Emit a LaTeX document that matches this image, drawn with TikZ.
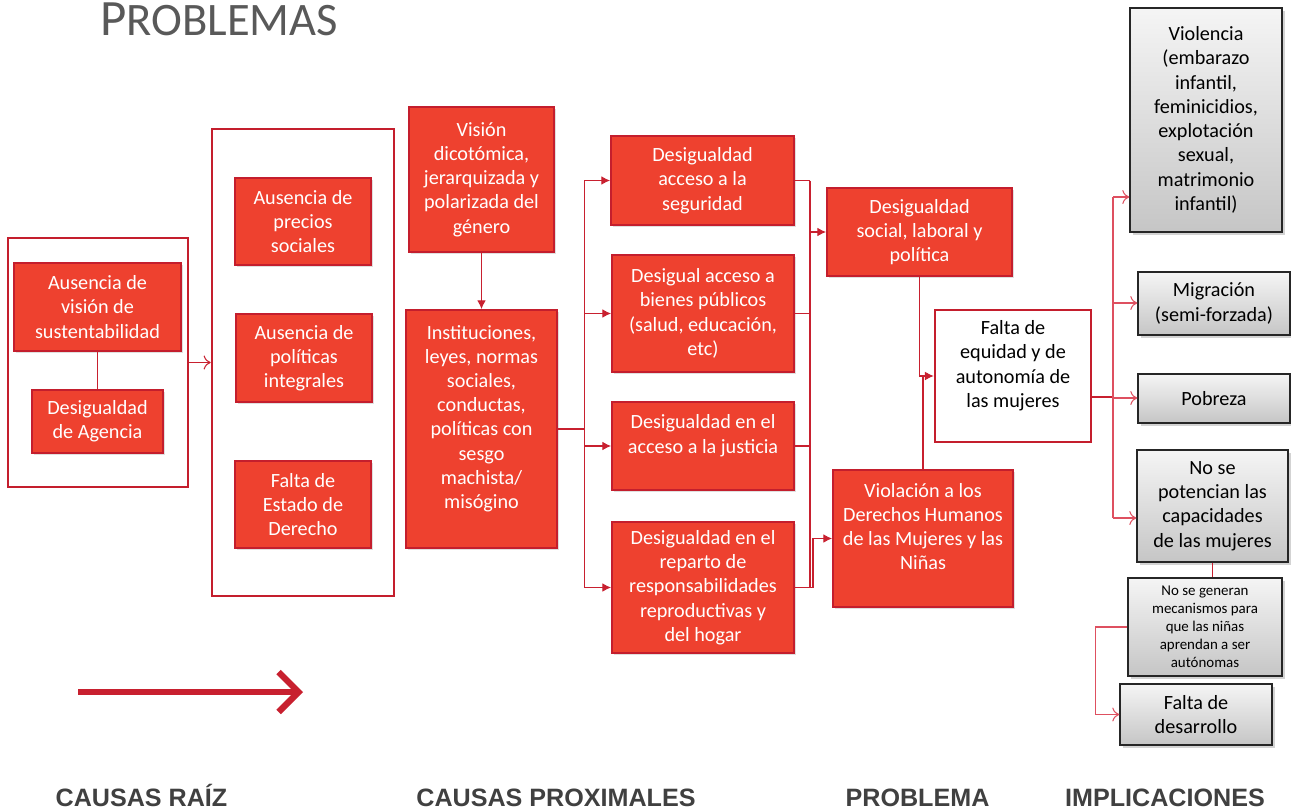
\documentclass[tikz,border=0pt]{standalone}
\usepackage{fontspec}
\setmainfont{Carlito}
\newfontfamily\headfont{Liberation Sans}
\usetikzlibrary{arrows.meta}
\usetikzlibrary{shadows}

\definecolor{boxred}{RGB}{238,65,47}
\definecolor{edgered}{RGB}{196,30,45}
\definecolor{linered}{RGB}{200,32,47}
\definecolor{implred}{RGB}{222,80,96}
\definecolor{titlegray}{RGB}{89,89,89}
\definecolor{labelgray}{RGB}{64,64,64}

\begin{document}
\begin{tikzpicture}[x=0.02cm, y=-0.02cm]
    \useasboundingbox (0,0) rectangle (1291,811);
    %% styles
    \tikzstyle {redbox} = [shape=rectangle, draw=edgered, line width=1.1pt, fill=boxred, text=white, align=center, font=\fontsize{11.5}{13.8}\selectfont, drop shadow={opacity=0.25, shadow xshift=1pt, shadow yshift=-1pt}];
    \tikzstyle {frame} = [shape=rectangle, draw=edgered, line width=1.5pt, fill=white];
    \tikzstyle {graybox} = [shape=rectangle, draw=black!85, line width=0.8pt, top color=gray!8, bottom color=gray!45, align=center, font=\fontsize{11.5}{13.8}\selectfont, drop shadow={opacity=0.35, shadow xshift=1.5pt, shadow yshift=-1.5pt}];
    \tikzstyle {conn} = [draw=linered, line width=0.6pt];
    \tikzstyle {arr} = [conn, -{Latex[length=5pt,width=5pt]}];
    \tikzstyle {impl} = [draw=implred, line width=0.6pt, -{To[length=4pt,width=8pt]}];
    \tikzstyle {bottomlabel} = [anchor=base, text=labelgray, font=\headfont\bfseries\fontsize{14.3}{16}\selectfont];

    %% title
    \node (title) [anchor=base west, inner sep=0pt, text height=0.66cm, text depth=0pt, text=titlegray] at (100,36) {\fontsize{29}{29}\selectfont P\fontsize{26.5}{26.5}\selectfont ROBLEMAS};

    %% causas raiz
    \node (raiz) [frame, minimum width=3.6cm, minimum height=4.98cm] at (98,362.5) {};
    \node (a1) [redbox, minimum width=3.34cm, minimum height=1.76cm] at (97.5,307) {Ausencia de\\visión de\\sustentabilidad};
    \node (a2) [redbox, minimum width=2.62cm, minimum height=1.26cm] at (97.5,421.5) {Desigualdad\\de Agencia};
    \draw [conn] (a1.south) -- (a2.north);

    %% second group
    \node (marco) [frame, minimum width=3.64cm, minimum height=9.34cm] at (303,362.5) {};
    \node (b1) [redbox, minimum width=2.72cm, minimum height=1.74cm] at (303,221.5) {Ausencia de\\precios\\sociales};
    \node (b2) [redbox, minimum width=2.72cm, minimum height=1.76cm] at (304,358) {Ausencia de\\políticas\\integrales};
    \node (b3) [redbox, minimum width=2.72cm, minimum height=1.74cm] at (303,504.5) {Falta de\\Estado de\\Derecho};
    \draw [conn, -{To[length=4pt,width=8pt]}] (raiz.east) -- (marco.west);

    %% causas proximales
    \node (c1) [redbox, minimum width=2.9cm, minimum height=2.9cm] at (481.5,179.5) {Visión\\dicotómica,\\jerarquizada y\\polarizada del\\género};
    \node (c2) [redbox, minimum width=3.02cm, minimum height=4.76cm] at (481.5,429) {Instituciones,\\leyes, normas\\sociales,\\conductas,\\políticas con\\sesgo\\machista/\\misógino\\~};
    \draw [arr] (c1.south) -- (c2.north);

    \node (d1) [redbox, minimum width=3.66cm, minimum height=1.78cm] at (702.5,180.5) {Desigualdad\\acceso a la\\seguridad};
    \node (d2) [redbox, minimum width=3.64cm, minimum height=2.34cm] at (703,313.5) {Desigual acceso a\\bienes públicos\\(salud, educación,\\etc)};
    \node (d3) [redbox, minimum width=3.64cm, minimum height=1.76cm] at (703,446) {Desigualdad en el\\acceso a la justicia\\~};
    \node (d4) [redbox, minimum width=3.64cm, minimum height=2.62cm] at (703,587.5) {Desigualdad en el\\reparto de\\responsabilidades\\reproductivas y\\del hogar};
    \foreach \n in {d1,d2,d3,d4}
        \draw [arr] (c2.east) -- +(27,0) |- (\n.west);

    %% problema
    \coordinate (m) at (810,0);
    \foreach \n in {d1,d2,d3,d4}
        \draw [conn] (\n.east) -- (\n.east -| m);
    \draw [conn] (d1.east -| m) -- (d4.east -| m);
    \node (e1) [redbox, minimum width=3.7cm, minimum height=1.76cm] at (919.5,232) {Desigualdad\\social, laboral y\\política};
    \node (e2) [redbox, minimum width=3.6cm, minimum height=2.74cm] at (923,538.5) {Violación a los\\Derechos Humanos\\de las Mujeres y las\\Niñas\\~};
    \draw [arr] (e1.west -| m) -- (e1.west);
    \draw [arr] (d4.east -| m) -- +(3,0) |- (e2.west);
    \node (f) [frame, minimum width=3.12cm, minimum height=2.64cm, align=center, font=\fontsize{11.5}{13.8}\selectfont] at (1013,376) {Falta de\\equidad y de\\autonomía de\\las mujeres\\~};
    \draw [arr] (e1.south) |- (f.west);
    \draw [conn] (e2.north) -- (e2.north |- f.west);

    %% implicaciones
    \node (g1) [graybox, minimum width=3.04cm, minimum height=4.48cm] at (1206,120) {Violencia\\(embarazo\\infantil,\\feminicidios,\\explotación\\sexual,\\matrimonio\\infantil)};
    \node (g2) [graybox, minimum width=3.04cm, minimum height=1.26cm] at (1214,303.5) {Migración\\(semi-forzada)};
    \node (g3) [graybox, minimum width=3.04cm, minimum height=0.98cm] at (1214,398.5) {Pobreza};
    \node (g4) [graybox, minimum width=3.02cm, minimum height=2.24cm] at (1212.5,506) {No se\\potencian las\\capacidades\\de las mujeres};
    \node (g5) [graybox, minimum width=3.08cm, minimum height=1.96cm, font=\fontsize{8.5}{10.2}\selectfont] at (1205,627) {No se generan\\mecanismos para\\que las niñas\\aprendan a ser\\autónomas};
    \node (g6) [graybox, minimum width=3.04cm, minimum height=1.22cm] at (1196,714.5) {Falta de\\desarrollo};

    \coordinate (tr) at (1113,397);
    \draw [conn, line width=1.2pt] (f.east |- tr) -- (tr);
    \foreach \g/\y in {g1/197, g2/303, g3/398, g4/518} {
        \coordinate (t\g) at (1113,\y);
        \draw [impl] (t\g) -- (t\g -| \g.west);
    }
    \draw [conn, draw=implred] (tg1) -- (tg4);
    \draw [conn] (g4.south) -- (g4.south |- g5.north);
    \draw [impl] (g5.west) -- +(-32,0) |- (g6.west);

    %% big arrow
    \draw [line width=3.6pt, draw=linered, -{Straight Barb[length=0.4cm, width=0.8cm]}] (78,692) -- (303,692);

    %% column labels
    \node (l1) [bottomlabel] at (141.5,806) {CAUSAS RAÍZ};
    \node (l2) [bottomlabel] at (556,806) {CAUSAS PROXIMALES};
    \node (l3) [bottomlabel] at (917.5,806) {PROBLEMA};
    \node (l4) [bottomlabel] at (1165,806) {IMPLICACIONES};
\end{tikzpicture}
\end{document}
